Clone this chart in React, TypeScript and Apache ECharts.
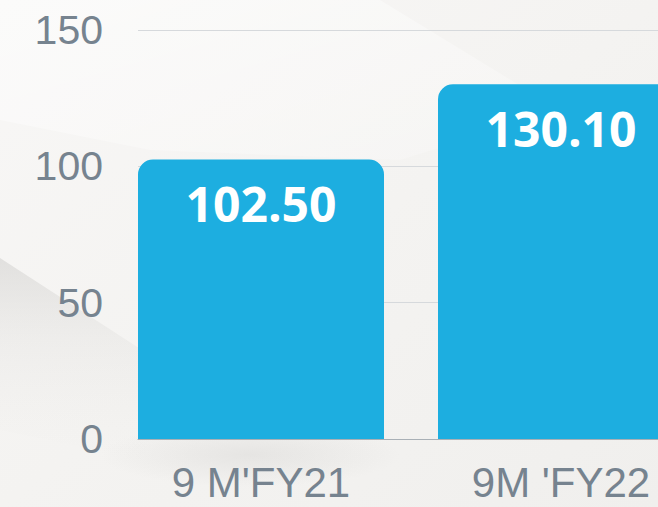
import React, { useEffect, useRef } from "react";
import * as echarts from "echarts";

const categories = ["9 M'FY21", "9M 'FY22"];
const values = [102.5, 130.1];
const yMin = 0;
const yMax = 150;
const yInterval = 50;

export default function App() {
  const ref = useRef<HTMLDivElement>(null);
  useEffect(() => {
    if (!ref.current) return;
    const chart = echarts.init(ref.current, null, { renderer: "svg" });
    const W = 658;
    const H = 507;
    const option: any = {
      animation: false,
      graphic: [
        {
          type: "rect",
          z: -10,
          silent: true,
          shape: { x: 0, y: 0, width: W, height: H },
          style: {
            fill: new echarts.graphic.LinearGradient(0, 0, 1, 1, [
              { offset: 0, color: "#f8f7f6" },
              { offset: 0.5, color: "#f4f3f1" },
              { offset: 1, color: "#f0efed" },
            ]),
          },
        },
        {
          type: "polygon",
          z: -9,
          silent: true,
          shape: { points: [[0, 0], [380, 0], [560, 110], [400, 160], [150, 150], [0, 120]] },
          style: {
            fill: new echarts.graphic.LinearGradient(0, 0, 1, 1, [
              { offset: 0, color: "rgba(255,255,255,0.5)" },
              { offset: 1, color: "rgba(255,255,255,0.15)" },
            ]),
          },
        },
        {
          type: "polygon",
          z: -9,
          silent: true,
          shape: { points: [[0, 258], [145, 352], [145, 460], [0, 430]] },
          style: {
            fill: new echarts.graphic.LinearGradient(0, 0, 0, 1, [
              { offset: 0, color: "rgba(200,199,197,0.45)" },
              { offset: 0.4, color: "rgba(210,209,207,0.2)" },
              { offset: 1, color: "rgba(230,229,227,0)" },
            ]),
          },
        },
        {
          type: "ellipse",
          z: -9,
          silent: true,
          shape: { cx: 250, cy: 455, rx: 150, ry: 32 },
          style: {
            fill: new echarts.graphic.RadialGradient(0.5, 0.5, 0.5, [
              { offset: 0, color: "rgba(205,204,202,0.35)" },
              { offset: 1, color: "rgba(205,204,202,0)" },
            ]),
          },
        },
      ],
      grid: [
        { left: 111, width: 600, top: 30, bottom: 68, outerBoundsMode: "none", containLabel: false },
        { left: 138, right: 0, top: 30, bottom: 68, outerBoundsMode: "none", containLabel: false },
      ],
      xAxis: [
        {
          type: "category",
          gridIndex: 0,
          data: categories,
          axisLine: { show: false },
          axisTick: { show: false },
          axisLabel: {
            fontSize: 42,
            color: "#76838f",
            margin: 22,
            fontFamily: "Liberation Sans",
          },
        },
        {
          type: "category",
          gridIndex: 1,
          data: [""],
          axisLine: { show: true, lineStyle: { color: "#a9b0b6", width: 1 } },
          axisTick: { show: false },
          axisLabel: { show: false },
        },
      ],
      yAxis: [
        {
          type: "value",
          gridIndex: 0,
          min: yMin,
          max: yMax,
          interval: yInterval,
          splitLine: { show: false },
          axisLine: { show: false },
          axisTick: { show: false },
          axisLabel: {
            fontSize: 41,
            color: "#76838f",
            margin: 8,
            fontFamily: "Liberation Sans",
          },
        },
        {
          type: "value",
          gridIndex: 1,
          min: yMin,
          max: yMax,
          interval: yInterval,
          splitLine: { show: true, lineStyle: { color: "#d6d9dc", width: 1 } },
          axisLine: { show: false },
          axisTick: { show: false },
          axisLabel: { show: false },
        },
      ],
      series: [
        {
          type: "bar",
          xAxisIndex: 0,
          yAxisIndex: 0,
          data: values,
          barCategoryGap: "18%",
          itemStyle: { color: "#1daee0", borderRadius: [15, 15, 0, 0] },
          label: {
            show: true,
            position: "insideTop",
            distance: 20,
            color: "#ffffff",
            fontSize: 48,
            fontWeight: "bold",
            fontFamily: "Open Sans",
            formatter: (p: any) => Number(p.value).toFixed(2),
          },
        },
      ],
    };
    chart.setOption(option);
    return () => chart.dispose();
  }, []);
  return (
    <div
      ref={ref}
      style={{ position: "absolute", left: 0, top: 0, width: 658, height: 507 }}
    />
  );
}
